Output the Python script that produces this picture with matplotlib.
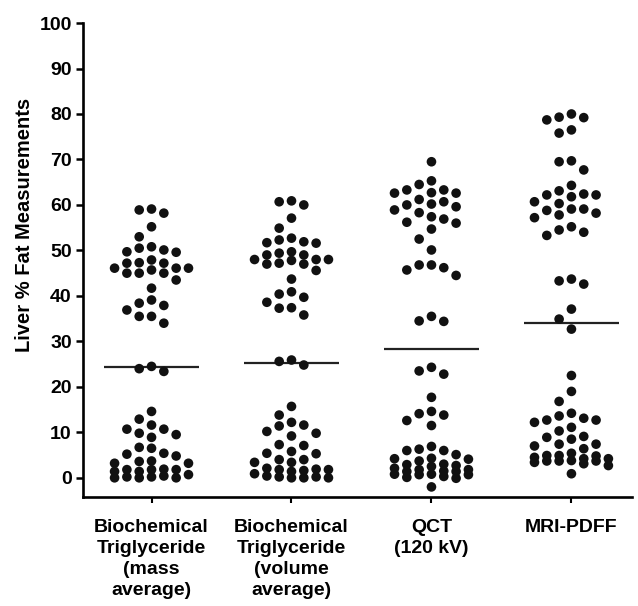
import numpy as np
import matplotlib
matplotlib.use("Agg")
import matplotlib.pyplot as plt

plt.rcParams['font.family'] = ['Liberation Sans', 'DejaVu Sans']
plt.rcParams['font.weight'] = 'bold'

categories = ["Biochemical\nTriglyceride\n(mass\naverage)",
              "Biochemical\nTriglyceride\n(volume\naverage)",
              "QCT\n(120 kV)",
              "MRI-PDFF"]

mass_avg = [59.1, 58.9, 58.2, 55.2, 53.0, 50.8, 50.5, 50.1, 49.7, 49.6, 47.9, 47.3, 47.2, 47.2,
            46.1, 46.1, 46.1, 45.7, 45.0, 45.0, 45.0, 43.5, 41.7, 39.1, 38.4, 37.9, 36.9, 35.5,
            35.5, 34.0, 24.5, 24.0, 23.4, 14.6, 12.9, 11.6, 10.7, 10.7, 9.8, 9.5, 8.9, 6.7, 6.5,
            5.4, 5.2, 4.8, 3.7, 3.6, 3.2, 3.2, 1.9, 1.8, 1.8, 1.8, 1.4, 1.4, 0.7, 0.4, 0.2, 0.2,
            0.0, 0.0, 0.0]
volume_avg = [60.9, 60.7, 60.0, 57.1, 54.9, 52.7, 52.3, 51.9, 51.7, 51.6, 49.7, 49.4, 49.0, 49.0,
              48.0, 48.0, 48.0, 47.8, 47.2, 47.0, 47.0, 45.6, 43.7, 40.9, 40.4, 39.7, 38.6, 37.4,
              37.3, 35.8, 25.9, 25.6, 24.8, 15.7, 13.8, 12.2, 11.6, 11.4, 10.2, 9.8, 9.2, 7.3, 7.1,
              5.8, 5.4, 5.3, 4.0, 4.0, 3.4, 3.4, 2.1, 1.9, 1.8, 1.8, 1.6, 1.4, 0.9, 0.4, 0.2, 0.2,
              0.0, 0.0, 0.0]
qct = [69.5, 65.3, 64.5, 63.3, 63.3, 62.7, 62.6, 62.6, 61.2, 60.7, 60.2, 60.0, 59.6, 58.9, 58.3,
       57.4, 56.9, 56.2, 56.0, 54.7, 52.5, 50.1, 46.8, 46.8, 46.2, 45.7, 44.5, 35.5, 34.5, 34.4,
       24.3, 23.5, 22.8, 17.7, 14.6, 14.1, 13.8, 12.6, 11.5,
       6.9, 6.3, 6.0, 6.0, 5.1, 4.3, 4.2, 4.1, 3.7, 3.0, 2.9, 2.7, 2.5, 2.1, 1.8, 1.8, 1.5, 1.4,
       1.4, 0.8, 0.8, 0.7, 0.7, 0.3, 0.1, -0.1, -2.0]
mri_pdff = [80.0, 79.3, 79.2, 78.7, 76.5, 75.8, 69.7, 69.5, 67.7, 64.3, 63.1, 62.4, 62.2, 62.2,
            61.8, 60.7, 60.3, 59.1, 59.1, 58.8, 58.2, 57.8, 57.2, 55.2, 54.5, 54.0, 53.3,
            43.7, 43.3, 42.6, 37.1, 34.9, 32.7, 22.5, 19.0, 16.8,
            14.2, 13.6, 13.1, 12.7, 12.7, 12.2, 11.1, 10.3, 9.1, 8.9, 8.5, 7.4, 7.4, 7.0, 6.4, 5.4,
            4.9, 4.9, 4.8, 4.5, 4.2, 4.2, 3.8, 3.7, 3.7, 3.7, 3.4, 3.1, 2.7, 0.9]
medians = [24.3, 25.3, 28.4, 34.0]
yticks = list(range(0, 101, 10))

groups = [mass_avg, volume_avg, qct, mri_pdff]


def swarm_offsets(vals, step, vgap, max_k=3):
    vals = np.asarray(vals, dtype=float)
    order = np.argsort(-vals, kind="stable")
    placed = []
    offs = np.zeros(len(vals))
    cands = [0] + [s * k for k in range(1, max_k + 1) for s in (-1, 1)]
    for i in order:
        y = vals[i]
        chosen = None
        best_gap, best_k = -1, 0
        for k in cands:
            ys = [py for pk, py in placed if pk == k]
            gap = min([abs(y - py) for py in ys], default=np.inf)
            if gap >= vgap:
                chosen = k
                break
            if gap > best_gap:
                best_gap, best_k = gap, k
        if chosen is None:
            chosen = best_k
        placed.append((chosen, y))
        offs[i] = chosen * step
    return offs


fig = plt.figure(figsize=(6.38, 6.06), dpi=100)
ax = fig.add_axes([0.130, 0.180, 0.860, 0.782])

xlim = (-0.49, 3.43)
ylim = (-4.2, 100)
ax.set_xlim(*xlim)
ax.set_ylim(*ylim)

for i, vals in enumerate(groups):
    offs = swarm_offsets(vals, step=0.088, vgap=2.4)
    ax.scatter(i + offs, vals, s=48, color="#111111", edgecolors="none", zorder=3)
    ax.hlines(medians[i], i - 0.34, i + 0.34, colors="#222222", linewidth=1.6, zorder=2)

ax.spines['top'].set_visible(False)
ax.spines['right'].set_visible(False)
for sp in ('left', 'bottom'):
    ax.spines[sp].set_linewidth(1.9)
    ax.spines[sp].set_color('black')

ax.set_yticks(yticks)
ax.set_yticklabels([str(t) for t in yticks], fontsize=14, fontweight='bold')
ax.set_xticks(range(len(categories)))
ax.set_xticklabels(categories, fontsize=14, fontweight='bold', linespacing=1.3)
ax.tick_params(axis='y', direction='out', length=5, width=1.8, pad=3)
ax.tick_params(axis='x', direction='out', length=4, width=1.5, pad=12)

ax.set_ylabel("Liver % Fat Measurements", fontsize=14.5, fontweight='bold')
ax.yaxis.set_label_coords(-0.090, 0.574)

fig.savefig("out.png", dpi=100)
